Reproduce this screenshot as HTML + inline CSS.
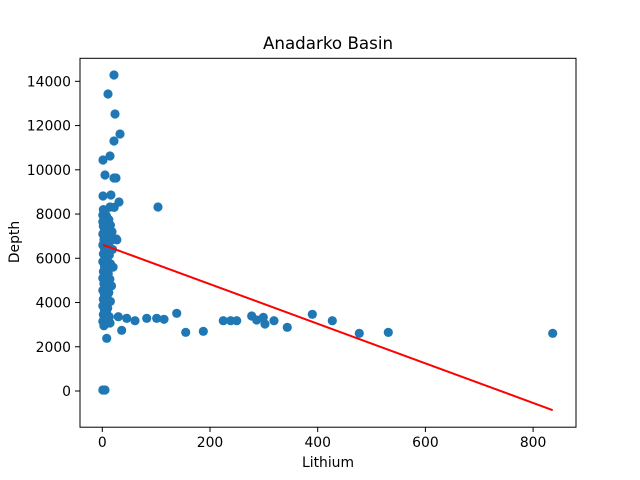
<!DOCTYPE html>
<html><head><meta charset="utf-8"><style>
html,body{margin:0;padding:0;background:#fff;width:640px;height:480px;overflow:hidden}
svg text{font-family:"DejaVu Sans","Liberation Sans",sans-serif;fill:#000}
</style></head><body>
<svg id="chart" width="640" height="480" xmlns="http://www.w3.org/2000/svg">
<rect x="0" y="0" width="640" height="480" fill="#fff"/>
<text x="328" y="49" font-size="16.7" text-anchor="middle">Anadarko Basin</text>
<g id="marks"></g>
<rect x="80" y="58.3" width="496" height="368.9" fill="none" stroke="#000" stroke-width="1"/>
<g id="axes"></g>
<text x="328" y="467" font-size="13.9" text-anchor="middle">Lithium</text>
<text x="0" y="0" font-size="13.9" text-anchor="middle" transform="translate(19,242) rotate(-90)">Depth</text>
</svg>
<script>
const xTicks = [0, 200, 400, 600, 800];
const yTicks = [0, 2000, 4000, 6000, 8000, 10000, 12000, 14000];
const lithium = [21.7,10.6,23.6,32.9,21.7,1.3,14.3,5,25.4,21.7,31,1.3,16,14.3,103.4,1,5,
 29.7,45.3,60.7,82.5,101,114.6,138.2,154.9,187.6,224.7,238.4,249.6,277.4,286.7,299,302.1,318.8,343.5,390,427.1,477.2,531.1,836.4,8.2,36,14.3,
 2,5,1,8,3,12,1,6,15,2,9,4,18,1,7,12,3,16,5,1,10,4,19,7,2,13,5,9,1,15,4,20,7,2,11,5,1,14,8,3,17,6,1,12,4,9,2,15,6,1,10,4,8,2,13,5,1,7,3,26,27,22];
const depth = [14285,13427,12523,11618,11302,10443,10624,9765,9629,9629,8544,8816,8861,8318,8318,45,45,
 3359,3286,3178,3286,3286,3241,3512,2653,2698,3178,3178,3178,3390,3209,3331,3028,3178,2879,3467,3178,2607,2652,2607,2381,2743,3074,
 8200,8100,7950,7900,7800,7750,7650,7600,7500,7450,7350,7250,7200,7100,7050,6950,6850,6800,6700,6600,6550,6450,6400,6300,6200,6150,6050,5950,5850,5750,5650,5600,5500,5400,5300,5200,5100,5050,4950,4850,4750,4650,4550,4450,4350,4250,4150,4050,3950,3850,3750,3650,3550,3450,3350,3250,3150,3050,2950,6870,6830,8300];
const fitParams = [6620, -8.95]; // intercept, slope
const NS = "http://www.w3.org/2000/svg";
function xs(v){ return 102.3 + v * 0.5385; }
function ys(v){ return 391 - v * 0.02212; }
const marks = document.getElementById('marks');
const axes = document.getElementById('axes');
for (let i = 0; i < lithium.length; i++) {
  const c = document.createElementNS(NS, 'circle');
  
  
  c.setAttribute('cx', xs(lithium[i]));
  c.setAttribute('cy', ys(depth[i]));
  c.setAttribute('r', 4.6);
  c.setAttribute('fill', '#1f77b4');
  marks.appendChild(c);
}
const xmin = Math.min(...lithium), xmax = Math.max(...lithium);
const ln = document.createElementNS(NS, 'line');


ln.setAttribute('x1', xs(xmin)); ln.setAttribute('y1', ys(fitParams[0] + fitParams[1]*xmin));
ln.setAttribute('x2', xs(xmax)); ln.setAttribute('y2', ys(fitParams[0] + fitParams[1]*xmax));
ln.setAttribute('stroke', '#ff0000'); ln.setAttribute('stroke-width', 2);
marks.appendChild(ln);
xTicks.forEach(t => {
  const x = xs(t);
  const tk = document.createElementNS(NS, 'line');
  
  
  tk.setAttribute('x1', x); tk.setAttribute('x2', x); tk.setAttribute('y1', 427.2); tk.setAttribute('y2', 432);
  tk.setAttribute('stroke', '#000');
  axes.appendChild(tk);
  const tx = document.createElementNS(NS, 'text');
  
  
  tx.setAttribute('x', x); tx.setAttribute('y', 447); tx.setAttribute('font-size', 13.9);
  tx.setAttribute('text-anchor', 'middle');
  tx.textContent = t;
  axes.appendChild(tx);
});
yTicks.forEach(t => {
  const y = ys(t);
  const tk = document.createElementNS(NS, 'line');
  
  
  tk.setAttribute('x1', 75); tk.setAttribute('x2', 80); tk.setAttribute('y1', y); tk.setAttribute('y2', y);
  tk.setAttribute('stroke', '#000');
  axes.appendChild(tk);
  const tx = document.createElementNS(NS, 'text');
  
  
  tx.setAttribute('x', 71); tx.setAttribute('y', y + 5); tx.setAttribute('font-size', 13.9);
  tx.setAttribute('text-anchor', 'end');
  tx.textContent = t;
  axes.appendChild(tx);
});
</script>
</body></html>
